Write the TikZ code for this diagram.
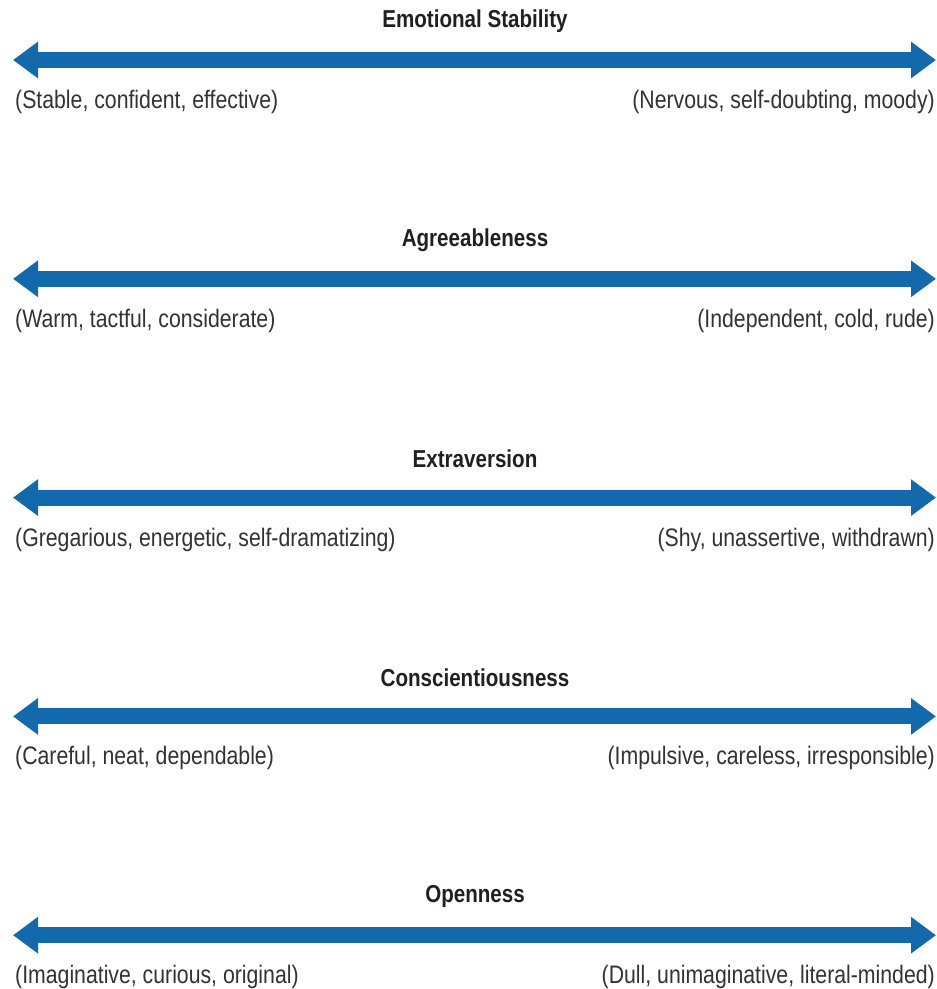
\documentclass[tikz,border=0pt]{standalone}
\usepackage{fontspec}
\setmainfont{Liberation Sans}[FakeStretch=0.84]
\usetikzlibrary{arrows.meta}
\definecolor{arrowblue}{RGB}{18,106,173}
\definecolor{txtgray}{RGB}{50,50,50}
\definecolor{titlegray}{RGB}{35,31,32}
\begin{document}
\begin{tikzpicture}[x=1pt,y=-1pt,
  bigarrow/.style={draw=arrowblue,line width=16pt,
    {Triangle[length=25pt,width=35pt,fill=arrowblue]}-{Triangle[length=25pt,width=35pt,fill=arrowblue]}},
  ttl/.style={font=\fontsize{24.5}{28}\selectfont\bfseries,text=titlegray,inner sep=0pt},
  lbl/.style={font=\fontsize{25.3}{29}\selectfont,text=txtgray,inner sep=0pt}]
\useasboundingbox (0,0) rectangle (937,989);
\foreach \i/\t/\a/\b [count=\n from 0] in {
  es/Emotional Stability/{(Stable, confident, effective)}/{(Nervous, self-doubting, moody)},
  ag/Agreeableness/{(Warm, tactful, considerate)}/{(Independent, cold, rude)},
  ex/Extraversion/{(Gregarious, energetic, self-dramatizing)}/{(Shy, unassertive, withdrawn)},
  co/Conscientiousness/{(Careful, neat, dependable)}/{(Impulsive, careless, irresponsible)},
  op/Openness/{(Imaginative, curious, original)}/{(Dull, unimaginative, literal-minded)}}{
  \pgfmathsetmacro{\yy}{60+218.8*\n}
  \coordinate (\i-l) at (13,\yy);
  \coordinate (\i-r) at (936,\yy);
  \node[ttl] (\i-t) at (475,\yy-39) {\t};
  \draw[bigarrow] (\i-l) -- (\i-r);
  \node[lbl,anchor=west] (\i-a) at (15,\yy+42) {\a};
  \node[lbl,anchor=east] (\i-b) at (935,\yy+42) {\b};
}
\end{tikzpicture}
\end{document}
